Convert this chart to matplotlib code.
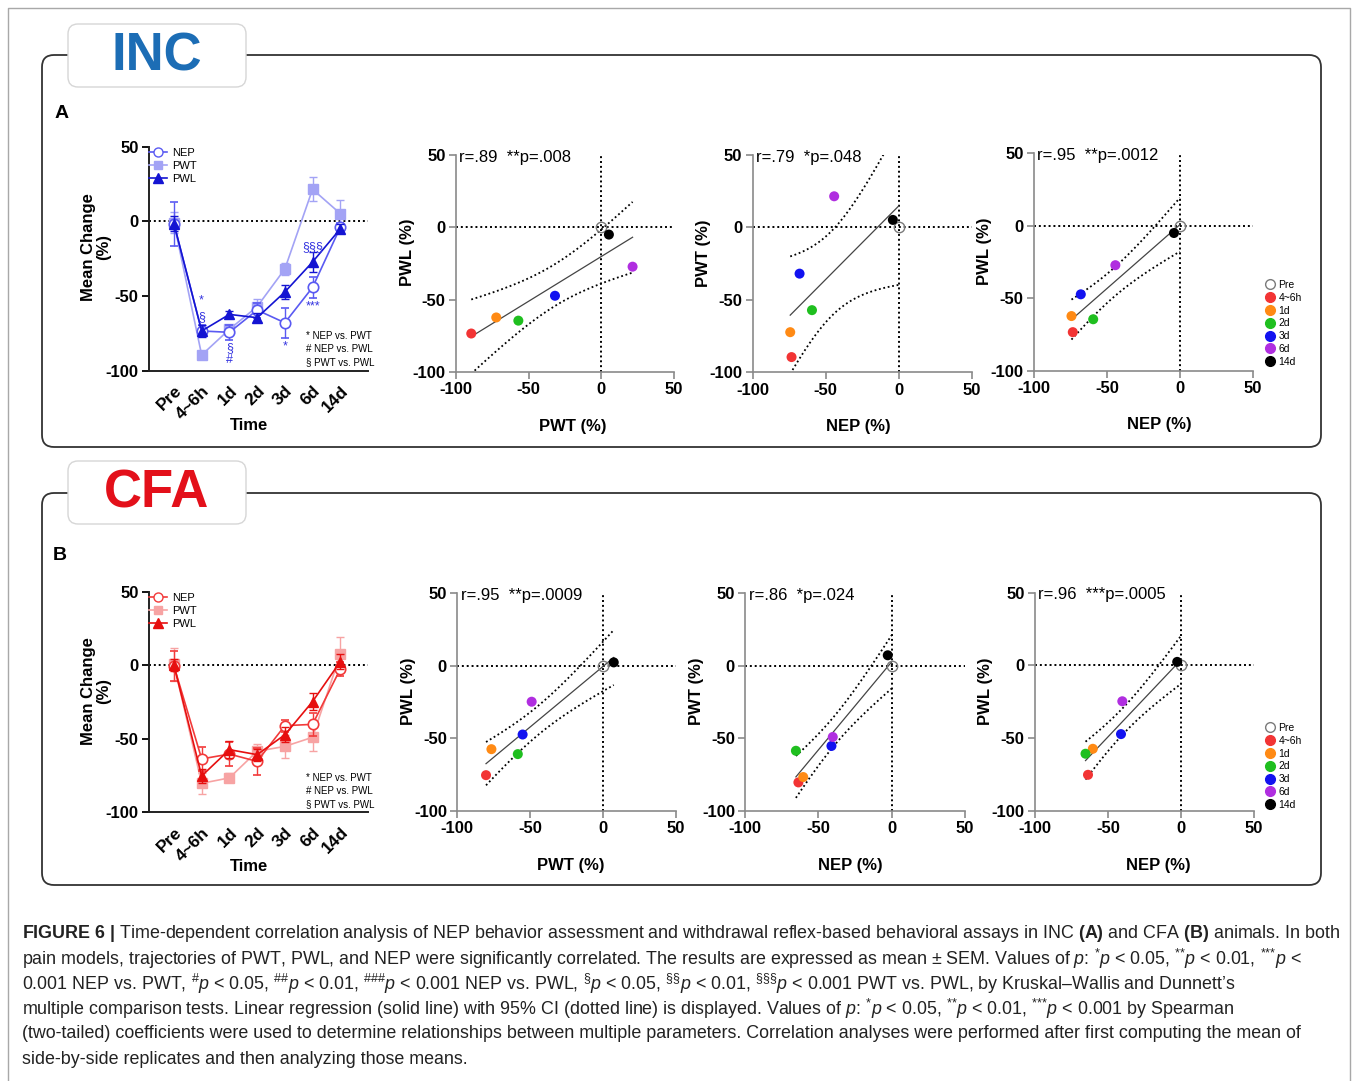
import numpy as np
import matplotlib
matplotlib.use('Agg')
import matplotlib.pyplot as plt
from matplotlib.patches import FancyBboxPatch
from matplotlib.lines import Line2D
from matplotlib import font_manager

W, H = 1357, 1081

# ---------------- data ----------------
time_labels = ["Pre", "4~6h", "1d", "2d", "3d", "6d", "14d"]
point_colors = ['none', '#f23434', '#ff8a14', '#1fbf1f', '#1212f0', '#b02ee0', '#000000']

# INC (A) mean change (%) and SEM
inc_nep = [-1.8, -73.4, -74.3, -59.4, -67.9, -44.2, -4.0]
inc_nep_err = [15, 4, 5, 5, 10, 7, 3]
inc_pwt = [-1.0, -89.5, -72.3, -57.1, -31.9, 21.5, 5.2]
inc_pwt_err = [7, 2, 3, 5, 4, 8, 9]
inc_pwl = [-1.5, -73.4, -62.3, -64.5, -47.3, -27.2, -5.0]
inc_pwl_err = [5, 4, 2, 3, 5, 7, 3]

# CFA (B) mean change (%) and SEM
cfa_nep = [-0.5, -63.7, -60.4, -65.4, -41.1, -40.2, -2.6]
cfa_nep_err = [10, 8, 8, 9, 4, 8, 5]
cfa_pwt = [0.5, -80.3, -76.6, -58.5, -55.2, -49.0, 7.3]
cfa_pwt_err = [11, 7, 3, 5, 8, 9, 12]
cfa_pwl = [0.0, -75.3, -57.4, -60.8, -47.3, -24.7, 2.4]
cfa_pwl_err = [4, 5, 6, 4, 5, 6, 5]

# Pre is the normalisation baseline in the correlation panels
pre_baseline = 0.0

# significance marks (INC only)
inc_sig_x = [1, 1, 2, 2, 4, 5, 5]
inc_sig_y = [-53, -64, -85, -93, -84, -17, -57]
inc_sig_text = ['*', '§', '§', '#', '*', '§§§', '***']

sig_legend = ["* NEP vs. PWT", "# NEP vs. PWL", "§ PWT vs. PWL"]

inc_stats = ["r=.89  **p=.008", "r=.79  *p=.048", "r=.95  **p=.0012"]
cfa_stats = ["r=.95  **p=.0009", "r=.86  *p=.024", "r=.96  ***p=.0005"]

T_CRIT = 2.5706  # t(0.975, df=5) for 7 points

caption_lines = [
    r"$\mathbf{FIGURE\ 6\ |}$ Time-dependent correlation analysis of NEP behavior assessment and withdrawal reflex-based behavioral assays in INC $\mathbf{(A)}$ and CFA $\mathbf{(B)}$ animals. In both",
    r"pain models, trajectories of PWT, PWL, and NEP were significantly correlated. The results are expressed as mean ± SEM. Values of $p$: $^{\text{*}}p$ < 0.05, $^{\text{**}}p$ < 0.01, $^{\text{***}}p$ <",
    r"0.001 NEP vs. PWT, $^{\#}p$ < 0.05, $^{\#\#}p$ < 0.01, $^{\#\#\#}p$ < 0.001 NEP vs. PWL, $^{\S}p$ < 0.05, $^{\S\S}p$ < 0.01, $^{\S\S\S}p$ < 0.001 PWT vs. PWL, by Kruskal–Wallis and Dunnett’s",
    r"multiple comparison tests. Linear regression (solid line) with 95% CI (dotted line) is displayed. Values of $p$: $^{\text{*}}p$ < 0.05, $^{\text{**}}p$ < 0.01, $^{\text{***}}p$ < 0.001 by Spearman",
    r"(two-tailed) coefficients were used to determine relationships between multiple parameters. Correlation analyses were performed after first computing the mean of",
    r"side-by-side replicates and then analyzing those means.",
]

# ---------------- fonts ----------------
def has_font(name):
    try:
        font_manager.findfont(font_manager.FontProperties(family=name), fallback_to_default=False)
        return True
    except Exception:
        return False

plt.rcParams['font.family'] = ['Liberation Sans', 'DejaVu Sans']
plt.rcParams['axes.unicode_minus'] = False
cap_font = 'Liberation Sans Narrow' if has_font('Liberation Sans Narrow') else 'Liberation Sans'
plt.rcParams['mathtext.fontset'] = 'custom'
plt.rcParams['mathtext.rm'] = cap_font
plt.rcParams['mathtext.it'] = cap_font + ':italic'
plt.rcParams['mathtext.bf'] = cap_font + ':bold'

fig = plt.figure(figsize=(W / 100, H / 100), dpi=100)

# background overlay in pixel coordinates
bg = fig.add_axes([0, 0, 1, 1])
bg.set_xlim(0, W)
bg.set_ylim(H, 0)
bg.axis('off')

# outer thin border
bg.plot([8, 8, 1350, 1350], [H, 8, 8, H], color='#a8a8a8', lw=1)

def frame(y0, y1):
    bg.add_patch(FancyBboxPatch((42, y0), 1321 - 42, y1 - y0,
                                boxstyle="round,pad=0,rounding_size=12",
                                fc='none', ec='#333333', lw=1.3))

def header(y0, y1, text, color):
    bg.add_patch(FancyBboxPatch((68, y0), 246 - 68, y1 - y0,
                                boxstyle="round,pad=0,rounding_size=10",
                                fc='white', ec='#d6d6d6', lw=1.0, zorder=3))
    bg.text(157, (y0 + y1) / 2 + 1, text, color=color, fontsize=38, fontweight='bold',
            ha='center', va='center', zorder=4)

frame(55, 447)
frame(493, 885)
header(24, 87, "INC", '#1c6db5')
header(461, 524, "CFA", '#e3101a')
bg.text(62, 113, "A", fontsize=14, fontweight='bold', ha='center', va='center')
bg.text(60, 556, "B", fontsize=14, fontweight='bold', ha='center', va='center')


def add_axes_px(l, t, r, b):
    return fig.add_axes([l / W, 1 - b / H, (r - l) / W, (b - t) / H])


def bold_ticks(ax):
    for lab in ax.get_xticklabels() + ax.get_yticklabels():
        lab.set_fontweight('bold')


def line_panel(box, nep, nep_e, pwt, pwt_e, pwl, pwl_e, cols, sig=None):
    l, t, r, b = box
    ax = add_axes_px(l, t, r, b)
    x = np.arange(len(time_labels))
    ax.set_xlim(-0.9, 7.0)
    ax.set_ylim(-100, 50)
    ax.axhline(0, color='black', ls=(0, (1, 1.5)), lw=1.4, zorder=1)
    kw = dict(capsize=3, elinewidth=1, capthick=1, lw=1.2)
    ax.errorbar(x, pwt, yerr=pwt_e, color=cols[1], marker='s', ms=6.5, zorder=2, **kw)
    ax.errorbar(x, nep, yerr=nep_e, color=cols[0], marker='o', ms=7.5, mfc='white',
                mec=cols[0], mew=1.2, zorder=3, **kw)
    ax.errorbar(x, pwl, yerr=pwl_e, color=cols[2], marker='^', ms=7.5, zorder=4, **kw)
    for s in ['top', 'right']:
        ax.spines[s].set_visible(False)
    for s in ['left', 'bottom']:
        ax.spines[s].set_linewidth(1.4)
        ax.spines[s].set_color('#222222')
    ax.set_yticks([50, 0, -50, -100])
    ax.set_xticks(x)
    ax.set_xticklabels(time_labels, rotation=45, ha='right', va='top', rotation_mode='anchor')
    ax.tick_params(axis='y', length=5, width=1.3, labelsize=12, pad=2.5)
    ax.tick_params(axis='x', length=0, labelsize=12.5, pad=9)
    bold_ticks(ax)
    ax.set_xlabel("Time", fontsize=12, fontweight='bold')
    ax.xaxis.set_label_coords(0.455, -0.21)
    ax.set_ylabel("Mean Change\n(%)", fontsize=12, fontweight='bold', linespacing=1.0)
    ax.yaxis.set_label_coords(-0.175, 0.55)
    handles = [
        Line2D([], [], color=cols[0], marker='o', mfc='white', mec=cols[0], ms=6.5, lw=1.2),
        Line2D([], [], color=cols[1], marker='s', ms=6, lw=1.2),
        Line2D([], [], color=cols[2], marker='^', ms=6.5, lw=1.2),
    ]
    ax.legend(handles, ["NEP", "PWT", "PWL"], loc='upper left', bbox_to_anchor=(0.0, 0.995),
              frameon=False, fontsize=8, handlelength=1.6, handletextpad=0.5,
              labelspacing=0.28, borderpad=0, borderaxespad=0)
    for i, s in enumerate(sig_legend):
        ax.text(0.715, 0.155 - i * 0.058, s, transform=ax.transAxes, fontsize=7,
                ha='left', va='center')
    if sig is not None:
        sx, sy, st, sc = sig
        for xi, yi, ti in zip(sx, sy, st):
            ax.text(xi, yi, ti, color=sc, fontsize=9, ha='center', va='center', zorder=6)
    return ax


def fit_ci(xs, ys):
    n = len(xs)
    xm, ym = xs.mean(), ys.mean()
    sxx = ((xs - xm) ** 2).sum()
    slope = ((xs - xm) * (ys - ym)).sum() / sxx
    icpt = ym - slope * xm
    res = ys - (icpt + slope * xs)
    s = np.sqrt((res ** 2).sum() / (n - 2))
    xg = np.linspace(xs.min(), xs.max(), 120)
    yg = icpt + slope * xg
    hw = T_CRIT * s * np.sqrt(1.0 / n + (xg - xm) ** 2 / sxx)
    return xg, yg, yg - hw, yg + hw


def scatter_panel(box, xv, yv, xlabel, ylabel, stat, xlab_frac, legend_anchor=None):
    l, t, r, b = box
    ax = add_axes_px(l, t, r, b)
    ax.set_xlim(-100, 50)
    ax.set_ylim(-100, 50)
    xs = np.array([pre_baseline] + list(xv[1:]), dtype=float)
    ys = np.array([pre_baseline] + list(yv[1:]), dtype=float)
    dot = (0, (1, 1.5))
    ax.axhline(0, color='black', ls=dot, lw=1.4, zorder=1)
    ax.axvline(0, color='black', ls=dot, lw=1.4, zorder=1)
    xg, yg, lo, hi = fit_ci(xs, ys)
    ax.plot(xg, yg, color='#444444', lw=0.9, zorder=2)
    ax.plot(xg, lo, color='black', ls=dot, lw=1.3, zorder=2)
    ax.plot(xg, hi, color='black', ls=dot, lw=1.3, zorder=2)
    ax.plot(xs[0], ys[0], 'o', mfc='none', mec='#7a7a7a', mew=1.0, ms=7.5, zorder=4)
    ax.scatter(xs[1:], ys[1:], c=point_colors[1:], s=52, edgecolors='none', zorder=5)
    for s in ['top', 'right']:
        ax.spines[s].set_visible(False)
    for s in ['left', 'bottom']:
        ax.spines[s].set_linewidth(1.2)
        ax.spines[s].set_color('#8a8a8a')
    ax.set_xticks([-100, -50, 0, 50])
    ax.set_yticks([-100, -50, 0, 50])
    ax.tick_params(length=5, width=1.2, color='#8a8a8a', labelsize=12, pad=2.5)
    bold_ticks(ax)
    ax.set_xlabel(xlabel, fontsize=12, fontweight='bold')
    ax.xaxis.set_label_coords(xlab_frac, -0.215)
    ax.set_ylabel(ylabel, fontsize=12, fontweight='bold')
    ax.yaxis.set_label_coords(-0.19, 0.55)
    ax.text(0.015, 0.99, stat, transform=ax.transAxes, fontsize=12, ha='left', va='center')
    if legend_anchor is not None:
        handles = []
        for i, c in enumerate(point_colors):
            if c == 'none':
                handles.append(Line2D([], [], ls='none', marker='o', mfc='none', mec='#7a7a7a', ms=7))
            else:
                handles.append(Line2D([], [], ls='none', marker='o', mfc=c, mec=c, ms=7))
        ax.legend(handles, time_labels, loc='upper left',
                  bbox_to_anchor=(legend_anchor[0] / W, 1 - legend_anchor[1] / H),
                  bbox_transform=fig.transFigure, frameon=False, fontsize=7.5,
                  handlelength=0.8, handletextpad=0.4, labelspacing=0.27,
                  borderpad=0, borderaxespad=0)
    return ax


inc_cols = ['#5a5af2', '#a3a3f5', '#1414d2']
cfa_cols = ['#f23a3a', '#f7a3a3', '#e60f0f']

line_panel((149, 146.7, 368, 370.7), inc_nep, inc_nep_err, inc_pwt, inc_pwt_err,
           inc_pwl, inc_pwl_err, inc_cols,
           sig=(inc_sig_x, inc_sig_y, inc_sig_text, '#3434e0'))
line_panel((149, 591.7, 368, 812.3), cfa_nep, cfa_nep_err, cfa_pwt, cfa_pwt_err,
           cfa_pwl, cfa_pwl_err, cfa_cols)

scatter_panel((456, 155, 674, 372), inc_pwt, inc_pwl, "PWT (%)", "PWL (%)", inc_stats[0], 0.534)
scatter_panel((752.7, 155, 971.7, 372.3), inc_nep, inc_pwt, "NEP (%)", "PWT (%)", inc_stats[1], 0.481)
scatter_panel((1034, 153.3, 1252.7, 370.7), inc_nep, inc_pwl, "NEP (%)", "PWL (%)", inc_stats[2], 0.572,
              legend_anchor=(1266, 280))

scatter_panel((457.3, 593.3, 676, 811), cfa_pwt, cfa_pwl, "PWT (%)", "PWL (%)", cfa_stats[0], 0.52)
scatter_panel((745.3, 593.3, 964.7, 811), cfa_nep, cfa_pwt, "NEP (%)", "PWT (%)", cfa_stats[1], 0.477)
scatter_panel((1035, 592.7, 1254, 810.7), cfa_nep, cfa_pwl, "NEP (%)", "PWL (%)", cfa_stats[2], 0.563,
              legend_anchor=(1266, 723))

# ---------------- caption ----------------
renderer = fig.canvas.get_renderer()
probe = fig.text(22 / W, 0.5, caption_lines[0], fontsize=13, family=cap_font)
w = probe.get_window_extent(renderer).width
probe.remove()
cap_size = 13 * (1312.0 / w)
for i, line in enumerate(caption_lines):
    y = 933.5 + i * 25.1
    fig.text(22 / W, 1 - y / H, line, fontsize=cap_size, family=cap_font,
             color='#222222', ha='left', va='center')

fig.savefig("out.png", dpi=100)
